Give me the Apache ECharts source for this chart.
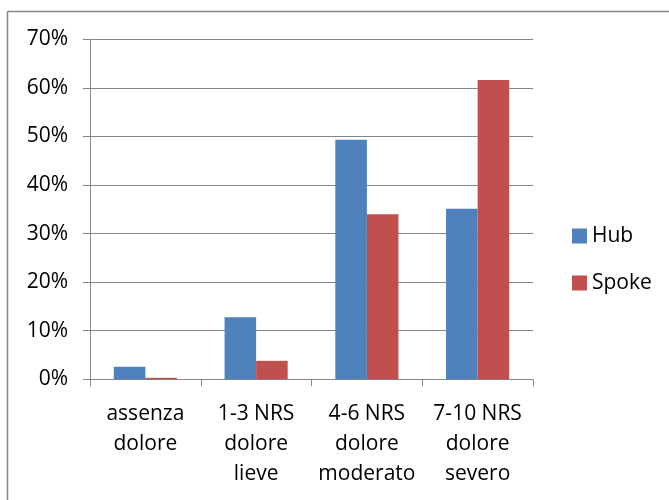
<!DOCTYPE html>
<html>
<head>
<meta charset="utf-8">
<script src="https://cdn.jsdelivr.net/npm/echarts@6/dist/echarts.min.js"></script>
<style>
html,body{margin:0;padding:0;background:#fff;}
#c{width:669px;height:500px;}
</style>
</head>
<body>
<div id="c"></div>
<script>
const categories = ['assenza\ndolore', '1-3 NRS\ndolore\nlieve', '4-6 NRS\ndolore\nmoderato', '7-10 NRS\ndolore\nsevero'];
const hubValues = [2.6, 12.8, 49.3, 35.1];
const spokeValues = [0.3, 3.8, 34.0, 61.6];
const seriesNames = ['Hub', 'Spoke'];
const yTicks = [0, 10, 20, 30, 40, 50, 60, 70];

const FONT = 'Open Sans';
const chart = echarts.init(document.getElementById('c'), null, {renderer: 'canvas'});
chart.setOption({
  animation: false,
  backgroundColor: '#fff',
  textStyle: {fontFamily: FONT},
  grid: {left: 90, right: 136, top: 39.3, bottom: 120.7, containLabel: false},
  legend: {
    orient: 'vertical',
    left: 572,
    top: 225.5,
    padding: 0,
    itemWidth: 15,
    itemHeight: 15,
    itemGap: 26,
    icon: 'rect',
    textStyle: {fontFamily: FONT, fontSize: 21, color: '#000', lineHeight: 20},
    data: seriesNames
  },
  xAxis: {
    type: 'category',
    data: categories,
    axisLine: {lineStyle: {color: '#868686', width: 1}},
    axisTick: {show: true, length: 7, alignWithLabel: false, lineStyle: {color: '#868686'}},
    axisLabel: {fontFamily: FONT, fontSize: 21, color: '#000', lineHeight: 30, margin: 20, interval: 0, verticalAlign: 'top'}
  },
  yAxis: {
    type: 'value',
    min: yTicks[0],
    max: yTicks[yTicks.length - 1],
    interval: 10,
    axisLine: {show: true, lineStyle: {color: '#868686', width: 1}},
    axisTick: {show: true, length: 7, lineStyle: {color: '#868686'}},
    splitLine: {show: true, lineStyle: {color: '#868686', width: 1}},
    axisLabel: {fontFamily: FONT, fontSize: 21, color: '#000', margin: 22, formatter: v => v + '%'}
  },
  series: [
    {name: seriesNames[0], type: 'bar', data: hubValues, barGap: '0%', barCategoryGap: '43%', itemStyle: {color: '#4F81BD'}},
    {name: seriesNames[1], type: 'bar', data: spokeValues, barGap: '0%', barCategoryGap: '43%', itemStyle: {color: '#C0504D'}}
  ],
  graphic: [
    {type: 'line', shape: {x1: 7.5, y1: 11.5, x2: 669, y2: 11.5}, style: {stroke: '#868686', lineWidth: 1.5}, silent: true},
    {type: 'line', shape: {x1: 7.5, y1: 11.5, x2: 7.5, y2: 500}, style: {stroke: '#868686', lineWidth: 1.5}, silent: true}
  ]
});
</script>
</body>
</html>
